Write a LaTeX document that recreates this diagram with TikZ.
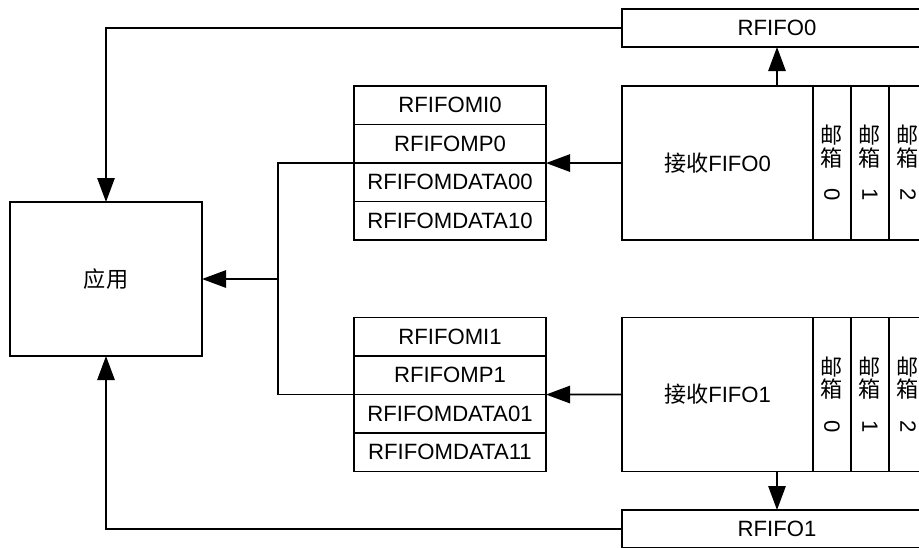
\documentclass[tikz,border=0pt]{standalone}
\usepackage{fontspec}
\setmainfont{Liberation Sans}
\newfontfamily\cjk{Noto Sans CJK SC}
\usetikzlibrary{positioning,arrows.meta}
\newcommand{\mbtext}[1]{{\cjk 邮}\\{\cjk 箱}\\\rotatebox{-90}{#1}}

\begin{document}
\begin{tikzpicture}[
      x=0.75pt, y=-0.75pt,
      node distance=0pt,
      box/.style={draw, line width=1.3pt, outer sep=0pt, inner sep=0pt, align=center,
                  font=\fontsize{16.6}{16.8}\selectfont},
      reg/.style={box, minimum width=144pt, minimum height=28.9pt},
      fifo/.style={box, minimum width=143.25pt, minimum height=115.5pt},
      mbox/.style={box, minimum width=28.5pt, minimum height=115.5pt},
      outbox/.style={box, minimum width=232.5pt, minimum height=28.5pt},
      line/.style={line width=1.3pt},
      >={Triangle[length=18pt, width=13pt]}]
    \useasboundingbox (0,0) rectangle (919,547);
    \clip (0,0) rectangle (919,547);
    \node[box, minimum width=144pt, minimum height=115.5pt] (app) at (106,279) {\cjk 应用};
    % receive FIFO 0
    \node[fifo] (fifo0) at (717.5,163) {{\cjk 接收}FIFO0};
    \node[mbox, right=of fifo0] (mb00) {\mbtext{0}};
    \node[mbox, right=of mb00] (mb01) {\mbtext{1}};
    \node[mbox, right=of mb01] (mb02) {\mbtext{2}};
    \node[outbox] (rfifo0) at (777,28) {RFIFO0};
    \node[reg] (mi0) at (450,105.25) {RFIFOMI0};
    \node[reg, below=of mi0] (mp0) {RFIFOMP0};
    \node[reg, below=of mp0] (da00) {RFIFOMDATA00};
    \node[reg, below=of da00] (da10) {RFIFOMDATA10};
    % receive FIFO 1
    \node[fifo] (fifo1) at (717.5,394.5) {{\cjk 接收}FIFO1};
    \node[mbox, right=of fifo1] (mb10) {\mbtext{0}};
    \node[mbox, right=of mb10] (mb11) {\mbtext{1}};
    \node[mbox, right=of mb11] (mb12) {\mbtext{2}};
    \node[outbox] (rfifo1) at (777,529) {RFIFO1};
    \node[reg] (mi1) at (450,336.75) {RFIFOMI1};
    \node[reg, below=of mi1] (mp1) {RFIFOMP1};
    \node[reg, below=of mp1] (da01) {RFIFOMDATA01};
    \node[reg, below=of da01] (da11) {RFIFOMDATA11};
    \coordinate (bus) at (278,279);
    \draw[line, ->] (rfifo0.south |- fifo0.north) -- (rfifo0.south);
    \draw[line, ->] (rfifo1.north |- fifo1.south) -- (rfifo1.north);
    \draw[line, ->] (fifo0.west) -- (mp0.south east);
    \draw[line, ->] (fifo1.west) -- (mp1.south east);
    \draw[line] (mp0.south west) -| (bus) |- (mp1.south west);
    \draw[line, ->] (bus) -- (app.east);
    \draw[line, ->] (rfifo0.west) -| (app.north);
    \draw[line, ->] (rfifo1.west) -| (app.south);
  \end{tikzpicture}
\end{document}
